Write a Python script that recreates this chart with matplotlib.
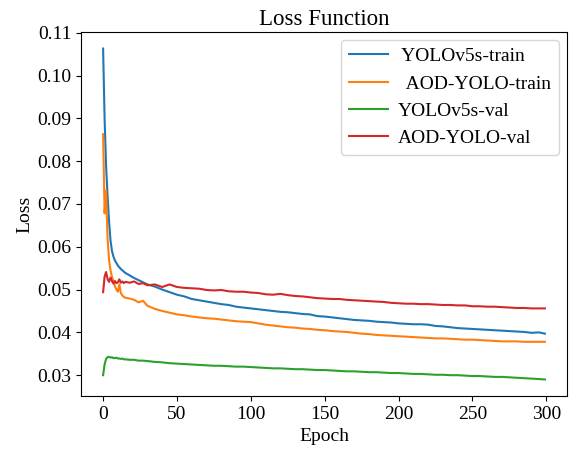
import matplotlib
matplotlib.use("Agg")
import matplotlib.pyplot as plt

plt.rcParams['font.family'] = ['Liberation Serif', 'DejaVu Serif']

epochs = [0, 1, 2, 3, 4, 5, 6, 7, 8, 9, 10, 11, 12, 13, 14, 15, 18, 21, 24, 27, 30,
          35, 40, 45, 50, 55, 60, 65, 70, 75, 80, 85, 90, 95, 100, 105, 110, 115, 120,
          125, 130, 135, 140, 145, 150, 155, 160, 165, 170, 175, 180, 185, 190, 195,
          200, 205, 210, 215, 220, 225, 230, 235, 240, 245, 250, 255, 260, 265, 270,
          275, 280, 285, 290, 295, 299]

yolov5s_train = [0.1063, 0.0900, 0.0790, 0.0720, 0.0660, 0.0615, 0.0590, 0.0577, 0.0568,
                 0.0562, 0.0556, 0.0552, 0.0548, 0.0545, 0.0542, 0.0539, 0.0533, 0.0527,
                 0.0522, 0.0517, 0.0512, 0.0507, 0.0500, 0.0494, 0.0488, 0.0484, 0.0478,
                 0.0475, 0.0472, 0.0469, 0.0466, 0.0464, 0.0460, 0.0458, 0.0456, 0.0454,
                 0.0452, 0.0450, 0.0448, 0.0447, 0.0445, 0.0443, 0.0442, 0.0438, 0.0437,
                 0.0435, 0.0433, 0.0431, 0.0429, 0.0428, 0.0427, 0.0425, 0.0424, 0.0423,
                 0.0421, 0.0420, 0.0419, 0.0419, 0.0418, 0.0415, 0.0414, 0.0412, 0.0410,
                 0.0409, 0.0408, 0.0407, 0.0406, 0.0405, 0.0404, 0.0403, 0.0402, 0.0401,
                 0.0399, 0.0400, 0.0397]

aod_train = [0.0863, 0.0678, 0.0732, 0.0620, 0.0570, 0.0545, 0.0530, 0.0518, 0.0508,
             0.0500, 0.0495, 0.0512, 0.0492, 0.0486, 0.0483, 0.0481, 0.0479, 0.0476,
             0.0470, 0.0474, 0.0462, 0.0455, 0.0450, 0.0446, 0.0442, 0.0440, 0.0437,
             0.0435, 0.0433, 0.0432, 0.0430, 0.0428, 0.0426, 0.0425, 0.0424, 0.0421,
             0.0418, 0.0416, 0.0414, 0.0412, 0.0411, 0.0409, 0.0408, 0.0406, 0.0405,
             0.0403, 0.0402, 0.0401, 0.0399, 0.0397, 0.0396, 0.0394, 0.0393, 0.0392,
             0.0391, 0.0390, 0.0389, 0.0388, 0.0387, 0.0386, 0.0386, 0.0385, 0.0384,
             0.0383, 0.0383, 0.0382, 0.0381, 0.0380, 0.0379, 0.0379, 0.0379, 0.0378,
             0.0378, 0.0378, 0.0378]

yolov5s_val = [0.0300, 0.0325, 0.0338, 0.0342, 0.0343, 0.0341, 0.0342, 0.0340, 0.0340,
               0.0341, 0.0339, 0.0339, 0.0338, 0.0339, 0.0337, 0.0337, 0.0336, 0.0336,
               0.0334, 0.0334, 0.0333, 0.0331, 0.0330, 0.0328, 0.0327, 0.0326, 0.0325,
               0.0324, 0.0323, 0.0322, 0.0322, 0.0321, 0.0320, 0.0320, 0.0319, 0.0318,
               0.0317, 0.0316, 0.0316, 0.0315, 0.0314, 0.0314, 0.0313, 0.0312, 0.0312,
               0.0311, 0.0310, 0.0309, 0.0309, 0.0308, 0.0307, 0.0307, 0.0306, 0.0305,
               0.0305, 0.0304, 0.0303, 0.0303, 0.0302, 0.0301, 0.0301, 0.0300, 0.0300,
               0.0299, 0.0298, 0.0298, 0.0297, 0.0296, 0.0296, 0.0295, 0.0294, 0.0293,
               0.0292, 0.0291, 0.0290]

aod_val = [0.0494, 0.0530, 0.0541, 0.0525, 0.0518, 0.0528, 0.0520, 0.0514, 0.0520,
           0.0515, 0.0517, 0.0524, 0.0516, 0.0519, 0.0515, 0.0518, 0.0516, 0.0519,
           0.0513, 0.0515, 0.0510, 0.0512, 0.0506, 0.0512, 0.0506, 0.0504, 0.0503,
           0.0502, 0.0499, 0.0498, 0.0499, 0.0496, 0.0495, 0.0495, 0.0493, 0.0492,
           0.0489, 0.0488, 0.0490, 0.0487, 0.0485, 0.0484, 0.0482, 0.0480, 0.0479,
           0.0478, 0.0478, 0.0476, 0.0475, 0.0474, 0.0473, 0.0472, 0.0471, 0.0469,
           0.0468, 0.0467, 0.0467, 0.0466, 0.0466, 0.0465, 0.0464, 0.0464, 0.0463,
           0.0463, 0.0461, 0.0461, 0.0460, 0.0460, 0.0459, 0.0458, 0.0457, 0.0457,
           0.0456, 0.0456, 0.0456]

labels = [' YOLOv5s-train', '  AOD-YOLO-train', 'YOLOv5s-val', 'AOD-YOLO-val']
colors = ['#1f77b4', '#ff7f0e', '#2ca02c', '#d62728']
series = [yolov5s_train, aod_train, yolov5s_val, aod_val]

fig = plt.figure(figsize=(5.73, 4.49), dpi=100)
ax = fig.add_axes([0.1414, 0.118, 0.8481, 0.8107])
for s, lab, c in zip(series, labels, colors):
    ax.plot(epochs, s, color=c, lw=1.5, label=lab)

ax.set_xticks([0, 50, 100, 150, 200, 250, 300])
ax.set_yticks([0.03, 0.04, 0.05, 0.06, 0.07, 0.08, 0.09, 0.10, 0.11])
ax.set_yticklabels(['0.03', '0.04', '0.05', '0.06', '0.07', '0.08', '0.09', '0.10', '0.11'])
ax.tick_params(labelsize=14)
ax.set_title('Loss Function', fontsize=16.5, pad=5)
ax.set_xlabel('Epoch', fontsize=14, labelpad=4)
ax.set_ylabel('Loss', fontsize=14, labelpad=3)
ax.legend(loc='upper right', fontsize=14, handlelength=2.0, handletextpad=0.5,
          labelspacing=0.5, borderaxespad=0.4)

fig.savefig('out.png', dpi=100)
